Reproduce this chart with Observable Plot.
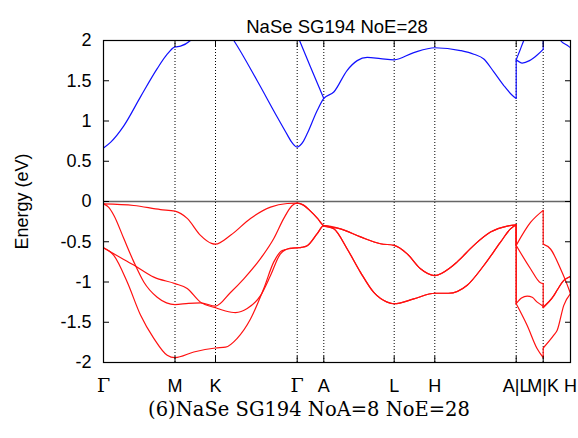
<!DOCTYPE html>
<html><head><meta charset="utf-8">
<script src="https://cdn.jsdelivr.net/npm/d3@7"></script>
<script src="https://cdn.jsdelivr.net/npm/@observablehq/plot@0.6"></script>
<style>body{margin:0;background:#fff}</style>
</head><body><div id="chart"></div>
<script>
const title = "NaSe SG194 NoE=28";
const caption = "(6)NaSe SG194 NoA=8 NoE=28";
const yLabel = "Energy (eV)";
const kTicks = [0, 71.5, 112, 193.7, 220.3, 290.7, 331.3, 412.7, 439.7, 467];
const kLabels = ["Γ", "M", "K", "Γ", "A", "L", "H", "A|L", "M|K", "H"];
const yTicks = [-2, -1.5, -1, -0.5, 0, 0.5, 1, 1.5, 2];

// doubly-degenerate valence pieces along A-L-H-A
const upperAL = [[220.3,-0.30],[237,-0.34],[257,-0.44],[277,-0.525],[290.7,-0.545]];
const upperLH = [[290.7,-0.545],[303.7,-0.65],[317,-0.835],[331.3,-0.92]];
const upperHA = [[331.3,-0.92],[347,-0.82],[353.7,-0.75],[370.3,-0.545],[387,-0.38],[403.7,-0.305],[412.7,-0.29]];
const lowerAL = [[220.3,-0.30],[230.3,-0.34],[243.7,-0.59],[257,-0.88],[270.3,-1.13],[283.7,-1.25],[290.7,-1.27]];
const lowerLH = [[290.7,-1.27],[310.3,-1.21],[331.3,-1.14]];
const lowerHA = [[331.3,-1.14],[345,-1.14],[363.7,-1.04],[380.3,-0.795],[397,-0.505],[407,-0.34],[412.7,-0.29]];
const topGA = [[193.7,-0.02],[200,-0.045],[207,-0.12],[214,-0.21],[220.3,-0.30]];
const midGA = [[193.7,-0.575],[198,-0.57],[203.7,-0.55],[213.7,-0.40],[220.3,-0.30]];

const valence1 = [
  [[0,-0.03],[30.3,-0.05],[57,-0.10],[71.5,-0.12]],
  [[71.5,-0.12],[83.7,-0.21],[97,-0.42],[108,-0.52],[112,-0.53]],
  [[112,-0.53],[127,-0.42],[147,-0.21],[167,-0.07],[183.7,-0.025],[193.7,-0.02]],
  topGA,
  upperAL, upperLH, upperHA,
  [[412.7,-0.545],[427,-0.26],[439.7,-0.11]],
  [[439.7,-0.53],[447,-0.59],[457,-0.835],[462,-0.98],[467,-1.145]]
];
const valence2 = [
  [[0,-0.03],[5,-0.07],[10.3,-0.17],[20.3,-0.46],[30.3,-0.75],[40.3,-1.0],[53.7,-1.19],[63,-1.26],[71.5,-1.28]],
  [[71.5,-1.28],[85,-1.265],[97,-1.26],[112,-1.30]],
  [[112,-1.30],[127,-1.13],[140.3,-0.96],[157,-0.71],[170.3,-0.46],[180.3,-0.21],[188.7,-0.05],[193.7,-0.02]],
  topGA,
  lowerAL, lowerLH, lowerHA,
  [[412.7,-0.545],[427,-0.835],[437,-1.01],[439.7,-1.02]],
  [[439.7,-1.31],[450.3,-1.17],[453.7,-1.10],[460.3,-0.98],[467,-0.93]]
];
const valence3 = [
  [[0,-0.575],[10.3,-0.65],[30.3,-0.79],[50.3,-0.94],[71.5,-1.02]],
  [[71.5,-1.02],[83.7,-1.08],[97,-1.25],[112,-1.32]],
  [[112,-1.32],[122,-1.36],[132,-1.38],[143.7,-1.33],[157,-1.17],[167,-0.92],[177,-0.65],[187,-0.58],[193.7,-0.575]],
  midGA,
  upperAL, upperLH, upperHA,
  [[412.7,-1.27],[418,-1.20],[423.7,-1.175],[428.7,-1.19],[433.7,-1.25],[439.7,-1.30]],
  [[439.7,-1.32],[450.3,-1.17],[453.7,-1.10],[460.3,-0.98],[467,-0.93]]
];
const valence4 = [
  [[0,-0.575],[10.3,-0.67],[23.7,-1.0],[37,-1.41],[50.3,-1.70],[63.7,-1.91],[71.5,-1.94]],
  [[71.5,-1.94],[90.3,-1.87],[112,-1.82]],
  [[112,-1.82],[122,-1.81],[133.7,-1.70],[147,-1.46],[160.3,-1.08],[170.3,-0.75],[178.7,-0.61],[193.7,-0.575]],
  midGA,
  lowerAL, lowerLH, lowerHA,
  [[412.7,-1.27],[423.7,-1.54],[433.7,-1.83],[439.7,-1.94]],
  [[439.7,-1.82],[450.3,-1.66],[453.7,-1.60],[460.3,-1.29],[467,-1.145]]
];
const conduction1 = [
  [[0,0.665],[7,0.735],[20.3,0.94],[37,1.30],[53.7,1.65],[63.7,1.83],[71.5,1.92]],
  [[71.5,1.92],[77,1.93],[87,2.0],[97,2.15],[112,2.25]],
  [[112,2.25],[122,2.15],[130.3,2.0],[153.7,1.50],[173.7,1.05],[184,0.825],[188,0.74],[191,0.695],[193.7,0.675]],
  [[193.7,0.675],[196.5,0.695],[200,0.75],[204,0.85],[213.7,1.13],[220.3,1.28]],
  [[220.3,1.28],[230.3,1.36],[243.7,1.63],[253.7,1.75],[263.7,1.79],[277,1.775],[290.7,1.76]],
  [[290.7,1.76],[310.3,1.85],[331.3,1.91]],
  [[331.3,1.91],[357,1.875],[370.3,1.83],[380.3,1.77],[390.3,1.61],[400.3,1.44],[408.7,1.32],[412.7,1.28]],
  [[412.7,1.76],[416.5,1.88],[420.3,2.0],[430,2.25],[439.7,2.4]],
  [[439.7,2.4],[450,2.25],[457,2.0],[463.7,1.94],[467,1.91]]
];
const conduction2 = [
  [[193.7,2.07],[207,1.67],[220.3,1.28]],
  [[412.7,1.76],[418.7,1.72],[426,1.75],[433.7,1.82],[439.7,1.89]],
  [[439.7,2.6],[467,2.6]]
];

const bands = [
  {name: "v1", kind: "valence", segs: valence1},
  {name: "v2", kind: "valence", segs: valence2},
  {name: "v3", kind: "valence", segs: valence3},
  {name: "v4", kind: "valence", segs: valence4},
  {name: "c1", kind: "conduction", segs: conduction1},
  {name: "c2", kind: "conduction", segs: conduction2}
];

// join segments that meet continuously; start a new piece at path breaks (A|L, M|K)
const rows = [], jumps = [];
for (const b of bands) {
  let piece = 0;
  b.segs.forEach((seg, si) => {
    let start = 0;
    if (si > 0) {
      const p = b.segs[si - 1][b.segs[si - 1].length - 1], c = seg[0];
      if (p[0] === c[0] && p[1] === c[1]) start = 1;
      else {
        piece++;
        if (p[0] === c[0]) jumps.push({kind: b.kind, k: c[0], E1: p[1], E2: c[1]});
      }
    }
    seg.slice(start).forEach(([k, E]) => rows.push({kind: b.kind, z: b.name + "-" + piece, k, E}));
  });
}
const tickRows = kTicks.map((k, i) => ({k, label: kLabels[i]}));

const sans = "'Liberation Sans', Arial, Helvetica, sans-serif";
const serif = "'DejaVu Serif', 'Liberation Serif', serif";
const blue = "#1010ff", red = "#ff1010";

const chart = Plot.plot({
  width: 578, height: 438,
  marginLeft: 103, marginRight: 8, marginTop: 40, marginBottom: 76,
  style: {fontFamily: sans, fontSize: "18px", color: "black", background: "white"},
  x: {domain: [0, 467]},
  y: {domain: [-2, 2]},
  marks: [
    Plot.ruleX(kTicks.slice(1, -1), {stroke: "black", strokeDasharray: "1,2", strokeWidth: 1}),
    Plot.ruleY([0], {stroke: "#666", strokeWidth: 1.3}),
    Plot.line(rows.filter(d => d.kind === "valence"), {x: "k", y: "E", z: "z", stroke: red, strokeWidth: 1.2, curve: "monotone-x", clip: true}),
    Plot.line(rows.filter(d => d.kind === "conduction"), {x: "k", y: "E", z: "z", stroke: blue, strokeWidth: 1.2, curve: "monotone-x", clip: true}),
    Plot.link(jumps.filter(d => d.kind === "valence"), {x1: "k", x2: "k", y1: "E1", y2: "E2", stroke: red, strokeWidth: 1.2, clip: true}),
    Plot.link(jumps.filter(d => d.kind === "conduction"), {x1: "k", x2: "k", y1: "E1", y2: "E2", stroke: blue, strokeWidth: 1.2, clip: true}),
    Plot.axisY(yTicks, {anchor: "left", tickSize: -6, tickPadding: 18, tickFormat: d => String(d), label: null, fontSize: 18}),
    Plot.axisY(yTicks, {anchor: "right", tickSize: -6, tickFormat: () => "", label: null}),
    Plot.axisX(kTicks, {anchor: "bottom", tickSize: -6, tickFormat: () => "", label: null}),
    Plot.axisX(kTicks, {anchor: "top", tickSize: -6, tickFormat: () => "", label: null}),
    Plot.frame({stroke: "black", strokeWidth: 1.2}),
    Plot.text(tickRows.filter(d => d.label !== "Γ"), {x: "k", text: "label", frameAnchor: "bottom", dy: 29, fontSize: 18, fontFamily: sans}),
    Plot.text(tickRows.filter(d => d.label === "Γ"), {x: "k", text: "label", frameAnchor: "bottom", dy: 29, fontSize: 19, fontFamily: serif}),
    Plot.text([title], {text: d => d, frameAnchor: "top", dy: -21, fontSize: 18.5, fontFamily: sans}),
    Plot.text([yLabel], {text: d => d, frameAnchor: "left", textAnchor: "middle", dx: -81, rotate: -90, fontSize: 18, fontFamily: sans}),
    Plot.text([caption], {text: d => d, frameAnchor: "bottom", dx: -28, dy: 53, fontSize: 19.5, fontFamily: serif})
  ]
});
document.getElementById("chart").append(chart);
</script>
</body></html>
